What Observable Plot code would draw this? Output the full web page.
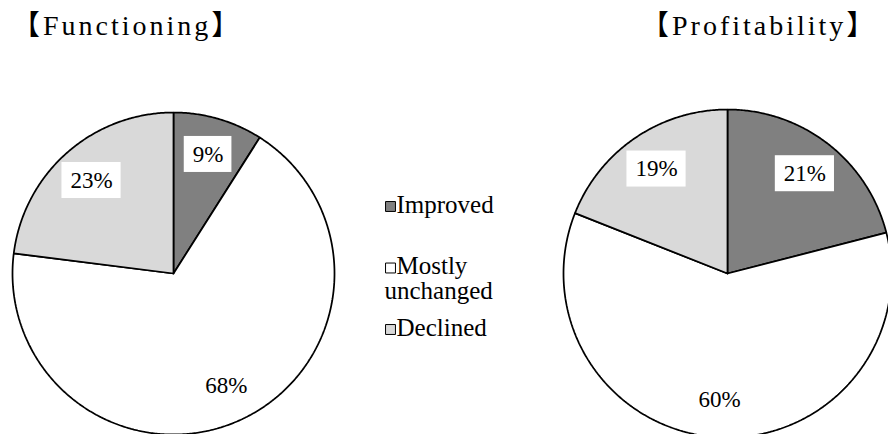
<!DOCTYPE html>
<html><head><meta charset="utf-8">
<script src="https://cdn.jsdelivr.net/npm/d3@7"></script>
<script src="https://cdn.jsdelivr.net/npm/@observablehq/plot@0.6"></script>
<style>
html,body{margin:0;background:#fff;overflow:hidden;font-family:'Times New Roman','Liberation Serif',Times,serif;}
#wrap{position:relative;width:888px;height:434px;}
svg text{font-family:'Times New Roman','Liberation Serif',Times,serif !important;}
.ttl{position:absolute;top:10px;font-family:'Times New Roman','Liberation Serif',Times,'Noto Sans CJK JP',serif;font-size:28px;line-height:32px;letter-spacing:3px;white-space:nowrap;color:#000;}
</style></head><body>
<div id="wrap"><div id="chart"></div></div>
<script>
// ---- data ----
const categories = ["Improved", "Mostly unchanged", "Declined"];
const functioningValues = [9, 68, 23];
const profitabilityValues = [21, 60, 19];
const chartTitles = ["【Functioning】", "【Profitability】"];
const legendLines = [["Improved"], ["Mostly", "unchanged"], ["Declined"]];
const colors = ["#808080", "#ffffff", "#d9d9d9"];

// ---- layout ----
const W = 888, H = 434;
const FONT = "'Times New Roman', 'Liberation Serif', Times, serif";
const LABEL_FS = 23, LEGEND_FS = 25;
const pies = [
  {title: chartTitles[0], values: functioningValues, cx: 173, cy: 273, r: 161, tx: 12},
  {title: chartTitles[1], values: profitabilityValues, cx: 727, cy: 273, r: 164, tx: 641}
];

const pie = d3.pie().sort(null).value(d => d);
const slicePts = [], labels = [];
pies.forEach((p, pi) => {
  const arcs = pie(p.values);
  arcs.forEach((a, i) => {
    const key = pi + "-" + i;
    const pts = [{x: p.cx, y: p.cy}];
    const n = Math.max(2, Math.ceil((a.endAngle - a.startAngle) / (Math.PI / 360)));
    for (let k = 0; k <= n; k++) {
      const t = a.startAngle + (a.endAngle - a.startAngle) * k / n;
      pts.push({x: p.cx + p.r * Math.sin(t), y: p.cy - p.r * Math.cos(t)});
    }
    pts.push({x: p.cx, y: p.cy});
    pts.forEach(pt => slicePts.push({...pt, key, cat: categories[i]}));
    const m = (a.startAngle + a.endAngle) / 2;
    const text = a.data + "%";
    const x = p.cx + 0.77 * p.r * Math.sin(m), y = p.cy - 0.77 * p.r * Math.cos(m);
    const w = ((text.length - 1) * 0.5 + 0.833) * LABEL_FS + 17;
    labels.push({x, y, text, x1: x - w / 2, x2: x + w / 2, y1: y - 18, y2: y + 18});
  });
});

const legendSq = categories.map((c, i) => ({cat: c, x: 390, y: 206 + i * 61.5}));
const legendText = [];
legendLines.forEach((lines, i) => {
  lines.forEach((t, j) => legendText.push({text: t, x: j === 0 ? 396 : 384, y: 212 + i * 61.5 + j * 24.5}));
});

const chart = Plot.plot({
  width: W, height: H,
  margin: 0,
  x: {domain: [0, W], range: [0, W], axis: null},
  y: {domain: [0, H], range: [0, H], axis: null},
  color: {domain: categories, range: colors},
  style: {fontFamily: FONT},
  marks: [
    Plot.line(slicePts, {x: "x", y: "y", z: "key", fill: "cat", stroke: "black", strokeWidth: 1.75, curve: "linear", strokeLinejoin: "miter"}),
    Plot.rect(labels, {x1: "x1", x2: "x2", y1: "y1", y2: "y2", fill: "white"}),
    Plot.text(labels, {x: "x", y: "y", text: "text", fontSize: LABEL_FS, fontFamily: FONT, fill: "black", lineAnchor: "middle", textAnchor: "middle"}),
    Plot.dot(legendSq, {x: "x", y: "y", fill: "cat", stroke: "black", strokeWidth: 1, symbol: "square", r: 5.6}),
    Plot.text(legendText, {x: "x", y: "y", text: "text", fontSize: LEGEND_FS, fontFamily: FONT, fill: "black", textAnchor: "start", lineAnchor: "bottom"})
  ]
});
document.getElementById("chart").appendChild(chart);

// titles above each pie
pies.forEach(p => {
  const d = document.createElement("div");
  d.className = "ttl";
  d.style.left = p.tx + "px";
  d.textContent = p.title;
  document.getElementById("wrap").appendChild(d);
});
</script>
</body></html>
